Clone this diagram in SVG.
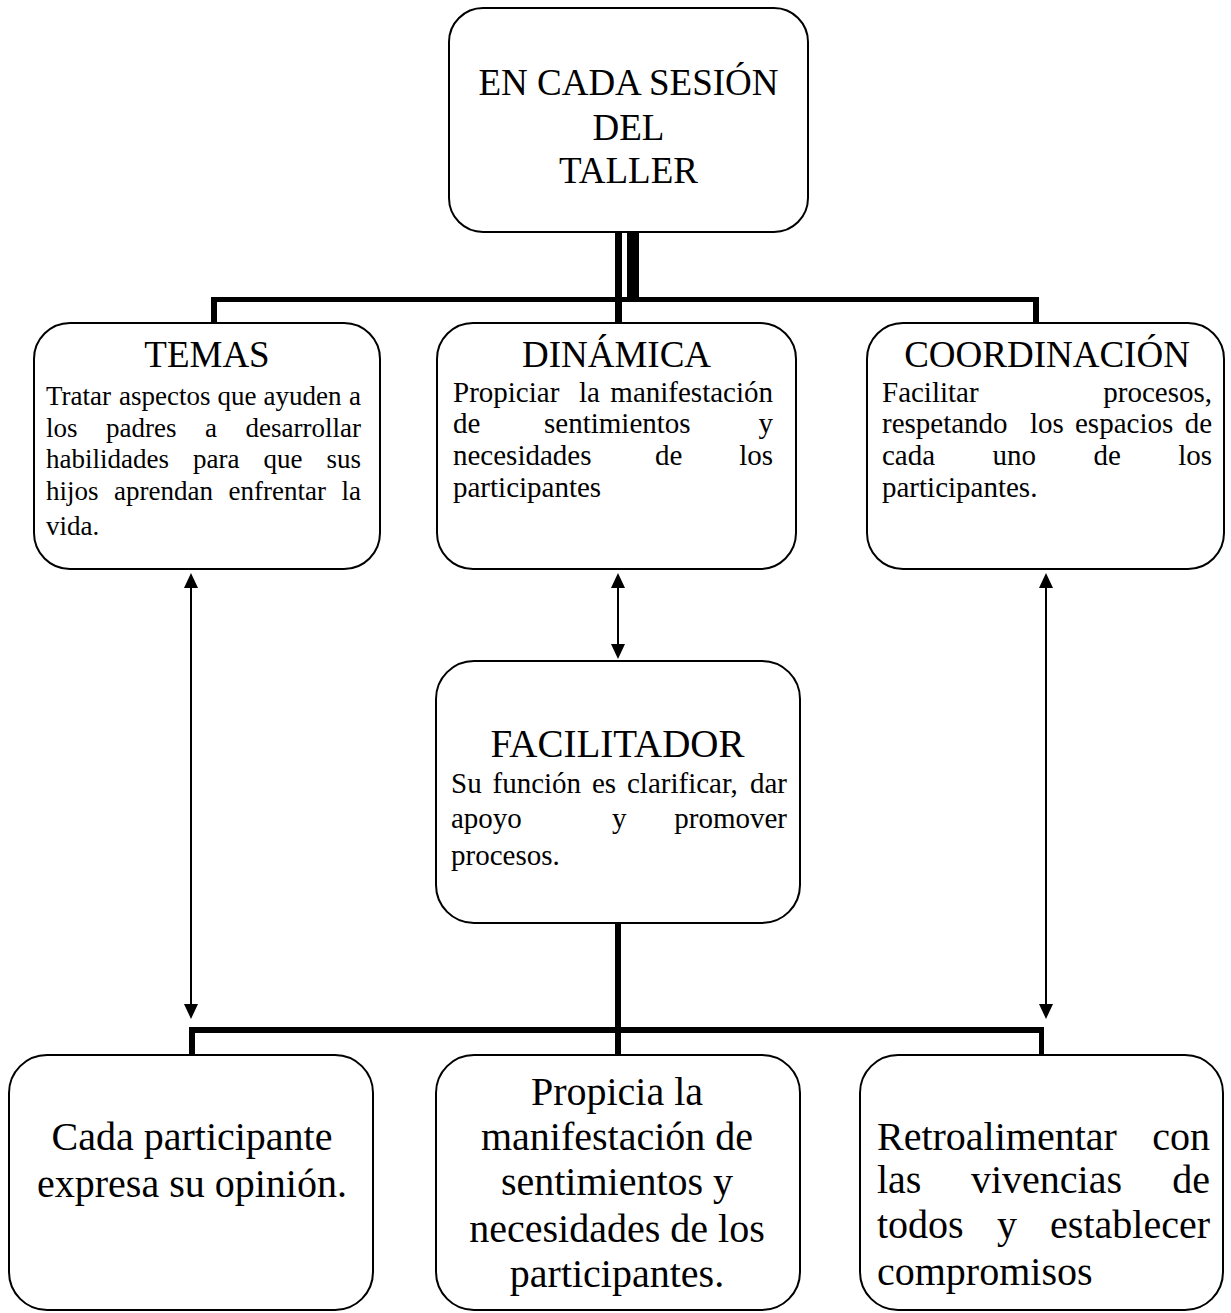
<svg xmlns="http://www.w3.org/2000/svg" width="1231" height="1313" viewBox="0 0 1231 1313">
<style>
.box{fill:#fff;stroke:#000;stroke-width:2}
text{font-family:"Liberation Serif","Times New Roman",serif;fill:#000}
.hd{font-size:37px;text-anchor:middle}
.b27{font-size:27px}
.b29{font-size:29px}
.b40{font-size:40px}
.c{text-anchor:middle}
.e{text-anchor:end}
.thin{stroke:#000;stroke-width:2;fill:none;marker-start:url(#ah);marker-end:url(#ah)}
</style>
<defs>
<marker id="ah" markerUnits="userSpaceOnUse" markerWidth="16" markerHeight="15" refX="8" refY="7" orient="auto-start-reverse">
<path d="M0,0 L15,7 L0,14 z" fill="#000"/>
</marker>
</defs>
<rect width="1231" height="1313" fill="#fff"/>
<g id="connectors">
<rect x="615" y="232" width="7" height="91" fill="#000"/>
<rect x="627" y="232" width="12" height="70" fill="#000"/>
<rect x="211" y="297" width="828" height="5" fill="#000"/>
<rect x="211" y="297" width="6" height="31" fill="#000"/>
<rect x="1033" y="297" width="6" height="45" fill="#000"/>
<rect x="615" y="923" width="6" height="134" fill="#000"/>
<rect x="189" y="1027" width="855" height="6" fill="#000"/>
<rect x="189" y="1027" width="6" height="28" fill="#000"/>
<rect x="1039" y="1027" width="5" height="28" fill="#000"/>
<line class="thin" x1="191" y1="580" x2="191" y2="1012"/>
<line class="thin" x1="618" y1="580" x2="618" y2="652"/>
<line class="thin" x1="1046" y1="580" x2="1046" y2="1012"/>
</g>
<g id="node-sesion">
<rect class="box" x="449" y="8" width="359" height="224" rx="34"/>
<text class="hd" x="628.5" y="95">EN CADA SESIÓN</text>
<text class="hd" x="628.5" y="140">DEL</text>
<text class="hd" x="628.5" y="183">TALLER</text>
</g>
<g id="node-temas">
<rect class="box" x="34" y="323" width="346" height="246" rx="36"/>
<text class="hd" x="207" y="367">TEMAS</text>
<text class="b27" y="405"><tspan x="46">Tratar</tspan><tspan x="119">aspectos</tspan><tspan x="217.5">que</tspan><tspan x="263.5">ayuden</tspan><tspan x="361" class="e">a</tspan></text>
<text class="b27" y="437"><tspan x="46">los</tspan><tspan x="106">padres</tspan><tspan x="205">a</tspan><tspan x="361" class="e">desarrollar</tspan></text>
<text class="b27" y="468"><tspan x="46">habilidades</tspan><tspan x="193">para</tspan><tspan x="263.5">que</tspan><tspan x="361" class="e">sus</tspan></text>
<text class="b27" y="500"><tspan x="46">hijos</tspan><tspan x="114">aprendan</tspan><tspan x="228.5">enfrentar</tspan><tspan x="361" class="e">la</tspan></text>
<text class="b27" x="46" y="535">vida.</text>
</g>
<g id="node-dinamica">
<rect class="box" x="437" y="323" width="359" height="246" rx="36"/>
<text class="hd" x="616.5" y="367">DINÁMICA</text>
<text class="b29" y="402"><tspan x="453">Propiciar</tspan><tspan x="579">la</tspan><tspan x="773" class="e">manifestación</tspan></text>
<text class="b29" y="433"><tspan x="453">de</tspan><tspan x="544">sentimientos</tspan><tspan x="773" class="e">y</tspan></text>
<text class="b29" y="465"><tspan x="453">necesidades</tspan><tspan x="655">de</tspan><tspan x="773" class="e">los</tspan></text>
<text class="b29" x="453" y="497">participantes</text>
</g>
<g id="node-coordinacion">
<rect class="box" x="867" y="323" width="357" height="246" rx="36"/>
<text class="hd" x="1047" y="367">COORDINACIÓN</text>
<text class="b29" y="402"><tspan x="882">Facilitar</tspan><tspan x="1212" class="e">procesos,</tspan></text>
<text class="b29" y="433"><tspan x="882">respetando</tspan><tspan x="1030">los</tspan><tspan x="1075">espacios</tspan><tspan x="1212" class="e">de</tspan></text>
<text class="b29" y="465"><tspan x="882">cada</tspan><tspan x="992.5">uno</tspan><tspan x="1093.5">de</tspan><tspan x="1212" class="e">los</tspan></text>
<text class="b29" x="882" y="497">participantes.</text>
</g>
<g id="node-facilitador">
<rect class="box" x="436" y="661" width="364" height="262" rx="38"/>
<text class="hd" x="617.5" y="757" style="font-size:39px">FACILITADOR</text>
<text class="b29" y="793"><tspan x="451">Su</tspan><tspan x="492.5">función</tspan><tspan x="592">es</tspan><tspan x="627">clarificar,</tspan><tspan x="787" class="e">dar</tspan></text>
<text class="b29" y="828"><tspan x="451">apoyo</tspan><tspan x="612">y</tspan><tspan x="787" class="e">promover</tspan></text>
<text class="b29" x="451" y="865">procesos.</text>
</g>
<g id="node-opinion">
<rect class="box" x="9" y="1055" width="364" height="255" rx="38"/>
<text class="b40 c" x="192" y="1150">Cada participante</text>
<text class="b40 c" x="192" y="1197">expresa su opinión.</text>
</g>
<g id="node-propicia">
<rect class="box" x="436" y="1055" width="364" height="255" rx="38"/>
<text class="b40 c" x="617" y="1105">Propicia la</text>
<text class="b40 c" x="617" y="1150">manifestación de</text>
<text class="b40 c" x="617" y="1195">sentimientos y</text>
<text class="b40 c" x="617" y="1242">necesidades de los</text>
<text class="b40 c" x="617" y="1287">participantes.</text>
</g>
<g id="node-retro">
<rect class="box" x="860" y="1055" width="363" height="255" rx="38"/>
<text class="b40" y="1150"><tspan x="877">Retroalimentar</tspan><tspan x="1210" class="e">con</tspan></text>
<text class="b40" y="1193"><tspan x="877">las</tspan><tspan x="971">vivencias</tspan><tspan x="1210" class="e">de</tspan></text>
<text class="b40" y="1238"><tspan x="877">todos</tspan><tspan x="997">y</tspan><tspan x="1210" class="e">establecer</tspan></text>
<text class="b40" x="877" y="1285">compromisos</text>
</g>
</svg>
